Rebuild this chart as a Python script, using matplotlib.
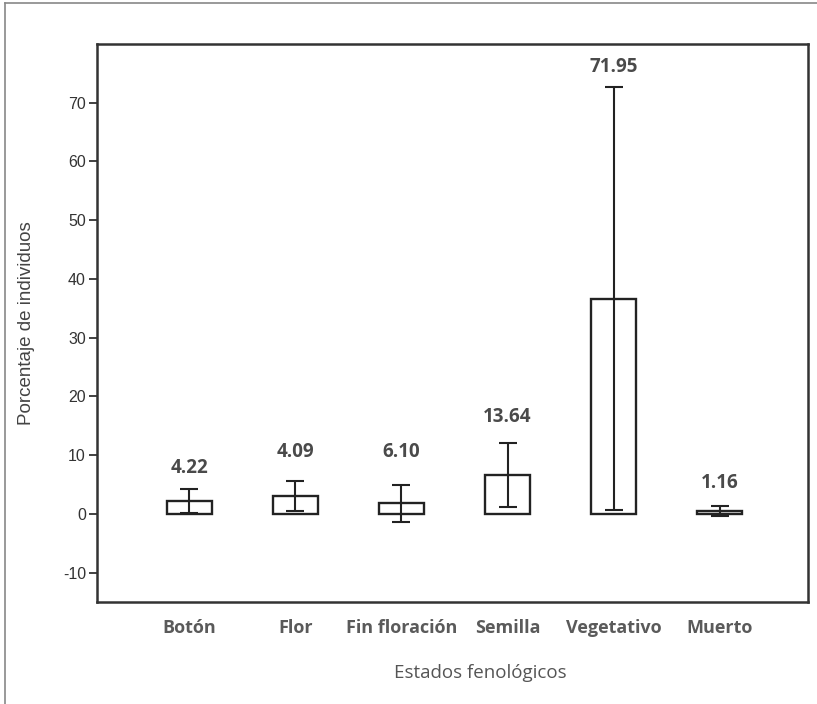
import matplotlib
matplotlib.use("Agg")
import matplotlib.pyplot as plt
from matplotlib.lines import Line2D

categories = ["Botón", "Flor", "Fin floración", "Semilla", "Vegetativo", "Muerto"]
means = [2.2, 3.07, 1.8, 6.7, 36.65, 0.45]
errors = [2.05, 2.55, 3.1, 5.45, 35.95, 0.85]
value_labels = ["4.22", "4.09", "6.10", "13.64", "71.95", "1.16"]
label_y = [7.8, 10.6, 10.6, 16.5, 76.1, 5.3]
yticks = [-10, 0, 10, 20, 30, 40, 50, 60, 70]

W, H = 817, 704
fig = plt.figure(figsize=(W / 100, H / 100), dpi=100)
ax = fig.add_axes([97 / W, 1 - 602 / H, (808 - 97) / W, (602 - 44) / H])

x = list(range(len(categories)))
ax.bar(x, means, width=0.425, facecolor="white", edgecolor="#222222", linewidth=1.7, zorder=2)
ax.errorbar(x, means, yerr=errors, fmt="none", ecolor="#222222", elinewidth=1.5,
            capsize=6.5, capthick=1.5, zorder=3)

for xi, lab, ly in zip(x, value_labels, label_y):
    ax.text(xi, ly, lab, ha="center", va="center", fontsize=13.5, fontweight="bold",
            color="#4a4a4a", family=["Open Sans", "DejaVu Sans"])

ax.set_xlim(-0.868, 5.83)
ax.set_ylim(-15, 80)
ax.set_yticks(yticks)
ax.set_yticklabels([str(t) for t in yticks], fontsize=11.5, color="#333333",
                   family=["Liberation Sans", "DejaVu Sans"])
ax.tick_params(axis="y", direction="out", length=6, width=1.3, color="#333333", pad=2)
ax.set_xticks(x)
ax.set_xticklabels(categories, fontsize=13, fontweight="bold", color="#5a5a5a",
                   family=["Open Sans", "DejaVu Sans"])
ax.tick_params(axis="x", length=0, pad=12)
for s in ax.spines.values():
    s.set_linewidth(1.8)
    s.set_color("#333333")

ax.set_ylabel("Porcentaje de individuos", fontsize=13.5, color="#444444",
              family=["Liberation Sans", "DejaVu Sans"])
ax.yaxis.set_label_coords((35 - 97) / (808 - 97), 0.5)
ax.set_xlabel("Estados fenológicos", fontsize=13.5, color="#555555",
              family=["Open Sans", "DejaVu Sans"])
ax.xaxis.label.set_horizontalalignment("center")
ax.xaxis.set_label_coords((480 - 97) / (808 - 97), -(664 - 602) / (602 - 44))

# outer border (left and top)
fig.add_artist(Line2D([5 / W, 5 / W], [0, 1 - 3 / H], transform=fig.transFigure,
                      color="#888888", linewidth=1.2))
fig.add_artist(Line2D([5 / W, 1], [1 - 3 / H, 1 - 3 / H], transform=fig.transFigure,
                      color="#888888", linewidth=1.2))

fig.savefig("out.png", dpi=100, facecolor="white")
